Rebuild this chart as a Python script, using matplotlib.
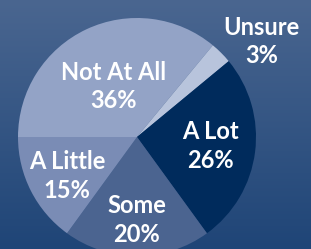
import numpy as np
import matplotlib
matplotlib.use('Agg')
import matplotlib.pyplot as plt
from matplotlib.colors import LinearSegmentedColormap

# slices, clockwise from 9 o'clock
labels = ['Not At All', 'Unsure', 'A Lot', 'Some', 'A Little']
shares = [36, 3, 26, 20, 15]
colors = ['#93a3c6', '#b8c4dc', '#002b5c', '#4b6490', '#7a8cb5']

# where each label sits (fraction of radius, angle nudge in degrees)
label_r = [0.47, 1.32, 0.62, 0.70, 0.67]
label_nudge = [0, -7.5, 0, 0, 2]

plt.rcParams['font.family'] = ['Lato', 'DejaVu Sans']

fig = plt.figure(figsize=(3.11, 2.49), dpi=100)
ax = fig.add_axes([0, 0, 1, 1])

# pie centre at (137, 137) px, radius 119 px
scale = 119.0
xmin, xmax = -137 / scale, (311 - 137) / scale
ymin, ymax = -(249 - 137) / scale, 137 / scale

# background gradient
bg = LinearSegmentedColormap.from_list('bg', ['#1f4577', '#4a6690'])
grad = np.linspace(0, 1, 256).reshape(-1, 1)
ax.imshow(grad, cmap=bg, origin='lower', aspect='auto',
          extent=[xmin, xmax, ymin, ymax], zorder=0)

wedges, _ = ax.pie(shares, colors=colors, startangle=180, counterclock=False,
                   radius=1, center=(0, 0), wedgeprops=dict(linewidth=0, zorder=2))

for w, lab, val, r, nudge in zip(wedges, labels, shares, label_r, label_nudge):
    mid = np.deg2rad((w.theta1 + w.theta2) / 2 + nudge)
    ax.text(r * np.cos(mid), r * np.sin(mid), f'{lab}\n{val}%',
            ha='center', va='center', color='white', fontsize=17,
            fontweight='bold', linespacing=1.3, zorder=3)

ax.set_xlim(xmin, xmax)
ax.set_ylim(ymin, ymax)
ax.set_aspect('equal')
ax.axis('off')

fig.savefig('out.png', dpi=100)
